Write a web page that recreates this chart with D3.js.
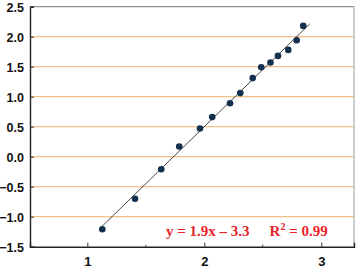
<!DOCTYPE html>
<html>
<head>
<meta charset="utf-8">
<script src="https://cdn.jsdelivr.net/npm/d3@7"></script>
<style>
body { margin:0; background:#fff; }
svg { display:block; }
</style>
</head>
<body>
<div id="chart"></div>
<script>
// data
var xVals = [1.128, 1.408, 1.632, 1.786, 1.963, 2.068, 2.220, 2.308, 2.414, 2.487, 2.566, 2.630, 2.718, 2.790, 2.846];
var yVals = [-1.21, -0.70, -0.21, 0.17, 0.47, 0.66, 0.89, 1.06, 1.31, 1.49, 1.57, 1.68, 1.78, 1.94, 2.18];
var fitX = [1.12, 2.9];
var slope = 1.9, icpt = -3.3;
var yTicks = [-1.5, -1.0, -0.5, 0.0, 0.5, 1.0, 1.5, 2.0, 2.5];
var gridTicks = [-1.0, -0.5, 0.0, 0.5, 1.0, 1.5, 2.0];
var xTicks = [1, 2, 3];
var xMinor = [1.5, 2.5];

var W = 358, H = 274;
var m = {l:30, r:4, t:6.7, b:27.3};

var svg = d3.select("#chart").append("svg").attr("width", W).attr("height", H);

var x = d3.scaleLinear().domain([0.51, 3.28]).range([m.l, W - m.r]);
var y = d3.scaleLinear().domain([-1.5, 2.5]).range([H - m.b, m.t]);

// grid
svg.selectAll(".grid").data(gridTicks).enter().append("line")
	.attr("x1", m.l).attr("x2", W - m.r)
	.attr("y1", function(d){ return y(d); }).attr("y2", function(d){ return y(d); })
	.style("stroke", "#f3c08c").style("stroke-width", 1.3);

// frame
svg.append("line").attr("x1", m.l).attr("x2", W - m.r).attr("y1", m.t).attr("y2", m.t)
	.style("stroke", "#777").style("stroke-width", 1);
svg.append("line").attr("x1", W - m.r).attr("x2", W - m.r).attr("y1", m.t).attr("y2", H - m.b)
	.style("stroke", "#999").style("stroke-width", 1);

// axes, ticks inward
var yAxis = d3.axisLeft(y).tickValues(yTicks).tickSize(-4).tickPadding(6)
	.tickFormat(d3.format(".1f"));
var gy = svg.append("g").attr("transform", "translate(" + m.l + ",0)").call(yAxis);

var xAxis = d3.axisBottom(x).tickValues(xTicks).tickSize(-4).tickPadding(10)
	.tickFormat(d3.format("d"));
var gx = svg.append("g").attr("transform", "translate(0," + (H - m.b) + ")").call(xAxis);

svg.selectAll(".minor").data(xMinor).enter().append("line")
	.attr("x1", function(d){ return x(d); }).attr("x2", function(d){ return x(d); })
	.attr("y1", H - m.b).attr("y2", H - m.b - 2)
	.style("stroke", "#333");

[gx, gy].forEach(function(g){
	g.select(".domain").style("stroke", "#222").style("stroke-width", 1.4);
	g.selectAll(".tick line").style("stroke", "#333");
	g.selectAll("text").style("font-family", "'Liberation Sans', Arial, sans-serif")
		.style("font-size", "13px").style("font-weight", "bold").style("fill", "#111");
});
gy.selectAll("text").attr("dy", "0.36em").style("font-size", "12.5px");

// fit line
var line = d3.line().x(function(d){ return x(d); }).y(function(d){ return y(slope * d + icpt); });
svg.append("path").datum(fitX).attr("d", line)
	.style("fill", "none").style("stroke", "#333").style("stroke-width", 0.9);

// points
svg.selectAll(".pt").data(xVals).enter().append("circle")
	.attr("cx", function(d){ return x(d); })
	.attr("cy", function(d, i){ return y(yVals[i]); })
	.attr("r", 3.3)
	.style("fill", "#13304f");

// equation
var eq = svg.append("text").attr("x", 166).attr("y", 236)
	.style("font-family", "'Liberation Serif', 'Times New Roman', serif")
	.style("font-size", "15px").style("font-weight", "bold").style("fill", "#e8222a");
eq.append("tspan").text("y = 1.9x \u2013 3.3");
eq.append("tspan").attr("dx", 20).text("R");
eq.append("tspan").attr("dy", -6).style("font-size", "10px").text("2");
eq.append("tspan").attr("dy", 6).text(" = 0.99");
</script>
</body>
</html>
